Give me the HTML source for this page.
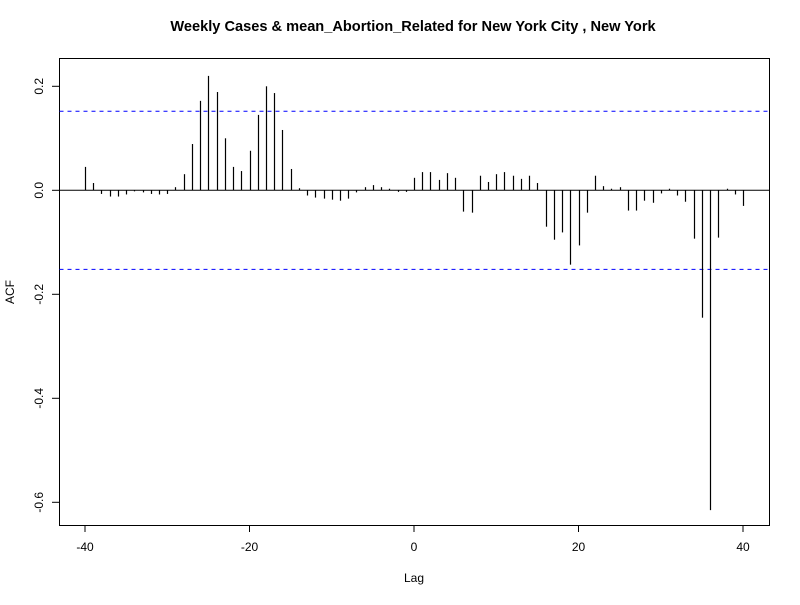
<!DOCTYPE html>
<html><head><meta charset="utf-8"><style>
body{margin:0;background:#fff;font-family:"Liberation Sans",Arial,sans-serif}
svg text{font-family:"Liberation Sans",Arial,sans-serif}
</style></head><body>
<svg id="chart" width="800" height="600" xmlns="http://www.w3.org/2000/svg">
<rect width="800" height="600" fill="#fff"/>
<text x="413" y="31" text-anchor="middle" font-size="14.6" font-weight="bold">Weekly Cases &amp; mean_Abortion_Related for New York City , New York</text>
<rect x="59.5" y="58.5" width="710" height="467" fill="none" stroke="#000"/>
<text x="414" y="582" text-anchor="middle" font-size="12">Lag</text>
<text transform="translate(14,292) rotate(-90)" text-anchor="middle" font-size="12">ACF</text>
<g id="marks"></g>
</svg>
<script>
const lags = [];
for (let l = -40; l <= 40; l++) lags.push(l);
const acfValues = [0.045,0.014,-0.007,-0.012,-0.012,-0.008,-0.002,-0.004,-0.007,-0.008,-0.007,0.006,0.031,0.089,0.172,0.22,0.189,0.1,0.045,0.037,0.076,0.145,0.2,0.187,0.116,0.041,0.004,-0.010,-0.014,-0.016,-0.018,-0.020,-0.016,-0.004,0.006,0.010,0.006,0.003,-0.003,-0.003,0.024,0.035,0.035,0.020,0.033,0.024,-0.041,-0.043,0.028,0.016,0.031,0.035,0.028,0.022,0.028,0.014,-0.070,-0.095,-0.081,-0.143,-0.106,-0.043,0.028,0.008,0.003,0.006,-0.039,-0.039,-0.020,-0.024,-0.006,0.003,-0.010,-0.022,-0.093,-0.245,-0.615,-0.091,0.003,-0.008,-0.030];
const xTicks = [-40,-20,0,20,40];
const yTicks = [0.2,0.0,-0.2,-0.4,-0.6];
const ciLevel = [0.152];
const NS = "http://www.w3.org/2000/svg";
const xs = v => 85 + (v + 40) * 8.225;
const ys = v => 190.3 - v * 520;
const g = document.getElementById('marks');
function mk(tag, attrs){const e=document.createElementNS(NS,tag);for(const k in attrs)e.setAttribute(k,attrs[k]);g.appendChild(e);return e;}
let z = mk('line',{x1:59.5,x2:769.5,y1:ys(0),y2:ys(0),stroke:'#000'});


[ciLevel[0], -ciLevel[0]].forEach((c,i)=>{
  const l = mk('line',{x1:59.5,x2:769.5,y1:ys(c),y2:ys(c),stroke:'#0000ff','stroke-dasharray':'4,4'});
  
  
});
lags.forEach((lag,i)=>{
  const x = Math.round(xs(lag)) + 0.5;
  const b = mk('line',{x1:x,x2:x,y1:ys(0),y2:ys(acfValues[i]),stroke:'#000','stroke-width':1.2});
  
  
});
xTicks.forEach(t=>{
  const l = mk('line',{x1:xs(t),x2:xs(t),y1:525.5,y2:532,stroke:'#000'});
  
  
  const tx = mk('text',{x:xs(t),y:551,'text-anchor':'middle','font-size':12});
  tx.textContent = t;
  
  
});
yTicks.forEach(t=>{
  const l = mk('line',{x1:52,x2:59.5,y1:ys(t),y2:ys(t),stroke:'#000'});
  
  
  const tx = mk('text',{'text-anchor':'middle','font-size':12,transform:`translate(43,${ys(t)}) rotate(-90)`});
  tx.textContent = t.toFixed(1);
  
  
});
</script>
</body></html>
